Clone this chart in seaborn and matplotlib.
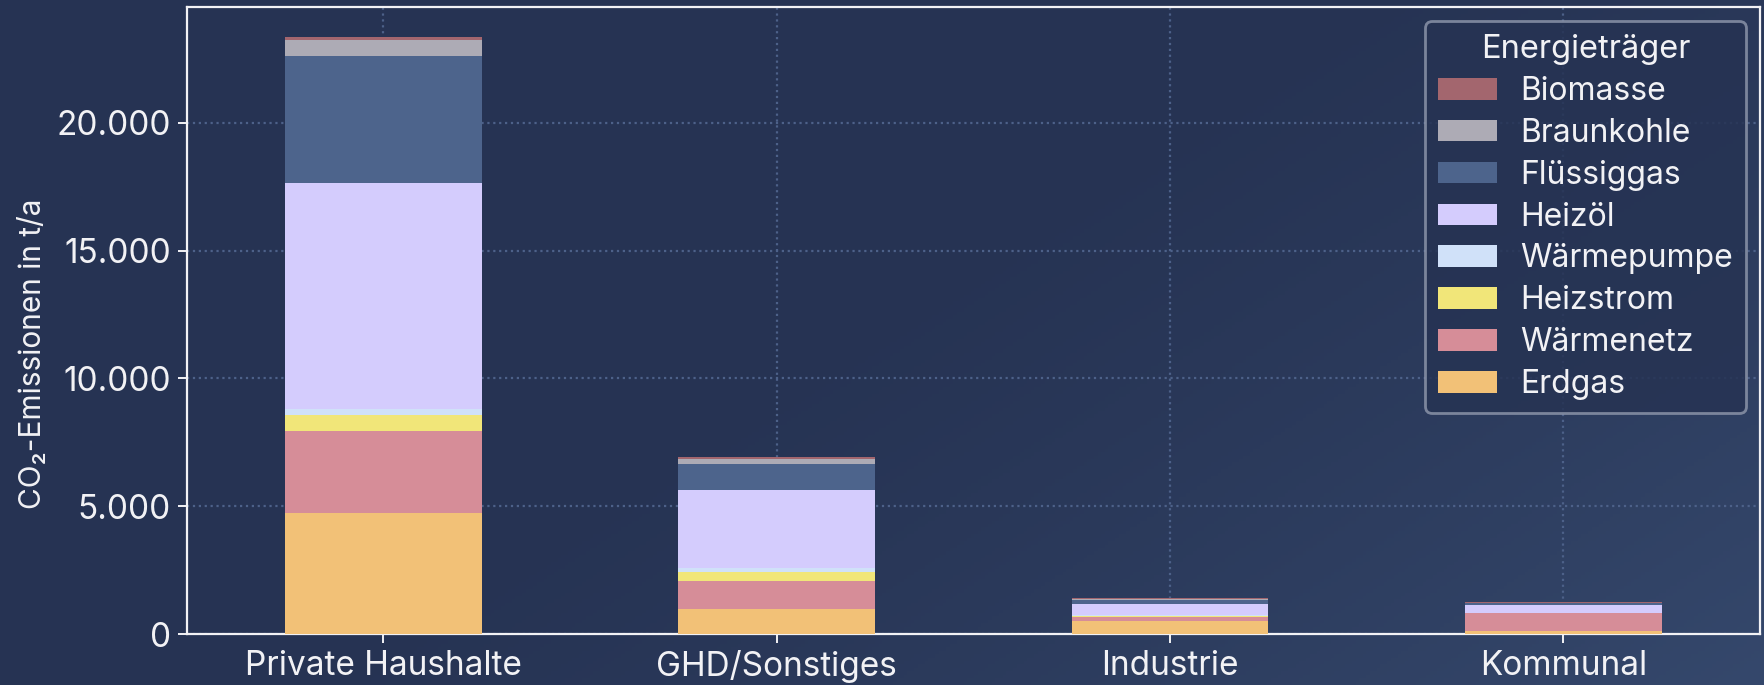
import numpy as np
import pandas as pd
import matplotlib.pyplot as plt
import seaborn as sns
from matplotlib.patches import Patch
from matplotlib.ticker import FuncFormatter

sns.set_theme(style="ticks")
plt.rcParams['font.family'] = ['Inter', 'DejaVu Sans']

# data (t/a), stack order bottom -> top
sectors = ['Private Haushalte', 'GHD/Sonstiges', 'Industrie', 'Kommunal']
carriers = ['Erdgas', 'Wärmenetz', 'Heizstrom', 'Wärmepumpe', 'Heizöl', 'Flüssiggas', 'Braunkohle', 'Biomasse']
erdgas = [4740, 1000, 530, 120]
waermenetz = [3200, 1100, 155, 710]
heizstrom = [630, 345, 30, 0]
waermepumpe = [240, 130, 40, 15]
heizoel = [8810, 3080, 440, 300]
fluessiggas = [4980, 990, 155, 65]
braunkohle = [610, 195, 40, 20]
biomasse = [140, 80, 40, 30]

colors = ['#f2c177', '#d68d98', '#f1e679', '#d0e1f9', '#d4ccfd', '#4d648c', '#adabb5', '#a3666e']

df = pd.DataFrame({'Erdgas': erdgas, 'Wärmenetz': waermenetz, 'Heizstrom': heizstrom,
                   'Wärmepumpe': waermepumpe, 'Heizöl': heizoel, 'Flüssiggas': fluessiggas,
                   'Braunkohle': braunkohle, 'Biomasse': biomasse}, index=sectors)
cum = df[carriers].cumsum(axis=1)

text_col = '#f2f2f5'
bg_dark = np.array([0x26, 0x33, 0x53]) / 255
bg_light = np.array([0x35, 0x48, 0x6c]) / 255

fig = plt.figure(figsize=(17.65, 6.85), dpi=100)

# background gradient (dark top-left -> lighter bottom-right)
bg = fig.add_axes([0, 0, 1, 1], zorder=-10)
yy, xx = np.mgrid[0:1:200j, 0:1:500j]
t = np.clip((xx * 0.75 + yy * 0.45 - 0.55) / 0.65, 0, 1) ** 1.3
img = bg_dark[None, None, :] * (1 - t[..., None]) + bg_light[None, None, :] * t[..., None]
bg.imshow(img, aspect='auto', extent=[0, 1, 0, 1], origin='upper')
bg.axis('off')

ax = fig.add_axes([0.1058, 0.0740, 0.8914, 0.9158])
ax.set_facecolor('none')

# stacked bars: draw cumulative totals from the top layer down
for c, col in reversed(list(zip(carriers, colors))):
    sns.barplot(x=sectors, y=cum[c].values, color=col, width=0.5, saturation=1,
                linewidth=0, ax=ax, zorder=3)

ax.set_xlim(-0.5, 3.5)
ax.set_ylim(0, cum['Biomasse'].max() * 1.05)
ax.yaxis.set_major_formatter(FuncFormatter(lambda v, p: f'{v:,.0f}'.replace(',', '.')))

ax.grid(True, axis='both', linestyle=':', color='#4d6189', linewidth=1.6, zorder=0)
ax.set_axisbelow(True)
for s in ax.spines.values():
    s.set_color(text_col)
    s.set_linewidth(1.6)
    s.set_visible(True)
ax.tick_params(colors=text_col, labelcolor=text_col, labelsize=24, length=6.5, width=1.4, pad=5)

ax.set_xlabel('')
ax.set_ylabel('CO₂-Emissionen in t/a', color=text_col, fontsize=21.5)
ax.yaxis.set_label_coords(-0.089, 0.447)

handles = [Patch(facecolor=col, edgecolor='none', label=c) for c, col in zip(carriers, colors)][::-1]
leg = ax.legend(handles=handles, title='Energieträger', loc='upper right', fontsize=23,
                title_fontsize=23.5, frameon=True, fancybox=True, labelspacing=0.34,
                handlelength=1.85, handleheight=0.66, handletextpad=0.72, borderaxespad=0.45)
leg.get_frame().set_facecolor('#263353')
leg.get_frame().set_alpha(0.85)
leg.get_frame().set_edgecolor('#8a93a8')
leg.get_frame().set_linewidth(2)
for txt in leg.get_texts():
    txt.set_color(text_col)
leg.get_title().set_color(text_col)

fig.savefig('out.png', dpi=100, facecolor=bg_dark)
